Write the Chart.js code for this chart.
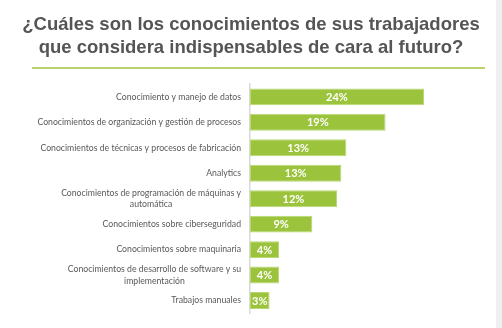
<!DOCTYPE html>
<html>
<head>
<meta charset="utf-8">
<script src="https://cdn.jsdelivr.net/npm/chart.js@4/dist/chart.umd.min.js"></script>
<style>
html,body{margin:0;padding:0;background:#fff;}
#wrap{width:502px;height:328px;position:relative;}
</style>
</head>
<body>
<div id="wrap"><canvas id="c" width="502" height="328"></canvas></div>
<script>
const titleLines = ['¿Cuáles son los conocimientos de sus trabajadores', 'que considera indispensables de cara al futuro?'];
const categories = [
  'Conocimiento y manejo de datos',
  'Conocimientos de organización y gestión de procesos',
  'Conocimientos de técnicas y procesos de fabricación',
  'Analytics',
  ['Conocimientos de programación de máquinas y', 'automática'],
  'Conocimientos sobre ciberseguridad',
  'Conocimientos sobre maquinaria',
  ['Conocimientos de desarrollo de software y su', 'implementación'],
  'Trabajos manuales'
];
const values = [24, 18.7, 13.3, 12.6, 12, 8.6, 4, 4, 2.7];
const valueLabels = ['24%', '19%', '13%', '13%', '12%', '9%', '4%', '4%', '3%'];
const xMax = 34.76;

const TICK_FONT = '8.7px Lato, "Open Sans", sans-serif';
const TICK_LINE = 11.5;
const TICK_PAD = 9;

const decor = {
  id: 'decor',
  beforeDraw(chart) {
    const ctx = chart.ctx;
    ctx.save();
    ctx.fillStyle = '#ffffff';
    ctx.fillRect(0, 0, chart.width, chart.height);
    ctx.fillStyle = '#f0f0f0';
    ctx.fillRect(496, 0, 6, chart.height);
    ctx.strokeStyle = '#a5c53a';
    ctx.lineWidth = 1.5;
    ctx.beginPath();
    ctx.moveTo(32, 68);
    ctx.lineTo(485, 68);
    ctx.stroke();
    ctx.restore();
  },
  afterDraw(chart) {
    // category labels: block right-aligned to the axis, lines centered inside the block
    const ctx = chart.ctx;
    const yScale = chart.scales.y;
    ctx.save();
    ctx.font = TICK_FONT;
    ctx.fillStyle = '#595959';
    ctx.textAlign = 'center';
    ctx.textBaseline = 'middle';
    yScale.ticks.forEach((t, i) => {
      const lab = yScale.getLabelForValue(t.value);
      const lines = Array.isArray(categories[i]) ? categories[i] : [categories[i]];
      const w = Math.max(...lines.map(l => ctx.measureText(l).width));
      const right = yScale.right - TICK_PAD;
      const cx = right - w / 2;
      const cy = yScale.getPixelForTick(i);
      const y0 = cy - (lines.length - 1) * TICK_LINE / 2;
      lines.forEach((l, k) => ctx.fillText(l, cx, y0 + k * TICK_LINE));
    });
    ctx.restore();
  },
  afterDatasetsDraw(chart) {
    const ctx = chart.ctx;
    const meta = chart.getDatasetMeta(0);
    ctx.save();
    ctx.fillStyle = '#ffffff';
    ctx.font = 'bold 11px Lato, "Open Sans", sans-serif';
    ctx.textAlign = 'center';
    ctx.textBaseline = 'middle';
    meta.data.forEach((bar, i) => {
      const cx = (bar.x + bar.base) / 2;
      ctx.fillText(valueLabels[i], cx, bar.y + 0.5);
    });
    ctx.restore();
  }
};

new Chart(document.getElementById('c'), {
  type: 'bar',
  data: {
    labels: categories,
    datasets: [{
      data: values,
      backgroundColor: '#9bc33b',
      borderColor: '#b9d774',
      borderWidth: 1,
      borderSkipped: false,
      barPercentage: 0.665,
      categoryPercentage: 1
    }]
  },
  options: {
    indexAxis: 'y',
    responsive: false,
    animation: false,
    devicePixelRatio: 1,
    layout: { padding: { left: 0, right: 0, top: 0, bottom: 14 } },
    plugins: {
      legend: { display: false },
      tooltip: { enabled: false },
      title: {
        display: true,
        text: titleLines,
        color: '#555555',
        font: { family: 'Arial, "Liberation Sans", sans-serif', size: 18.5, weight: 'bold', lineHeight: 1.22 },
        padding: { top: 14, bottom: 25 }
      }
    },
    scales: {
      x: {
        display: false,
        min: 0,
        max: xMax
      },
      y: {
        afterFit(scale) { scale.width = 250; },
        grid: { display: false, drawTicks: false },
        border: { display: true, color: '#d9d9d9', width: 1.5 },
        ticks: {
          autoSkip: false,
          color: 'rgba(0,0,0,0)',
          padding: TICK_PAD,
          font: { family: 'Lato, "Open Sans", sans-serif', size: 8.7, lineHeight: 1.32 }
        }
      }
    }
  },
  plugins: [decor]
});
</script>
</body>
</html>
